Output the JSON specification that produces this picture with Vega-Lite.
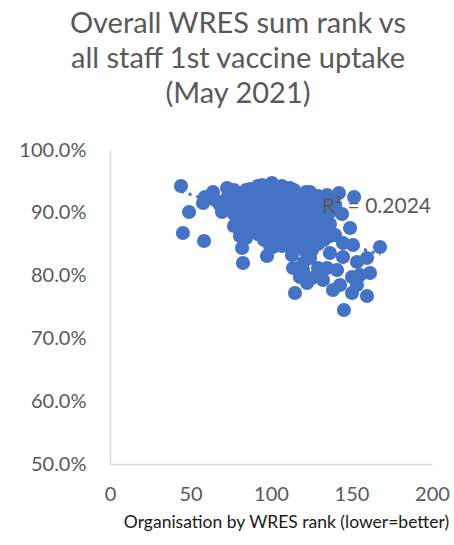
{
  "$schema": "https://vega.github.io/schema/vega-lite/v6.json",
  "width": 322,
  "height": 314,
  "autosize": "none",
  "padding": {"left": 110, "top": 150, "right": 22, "bottom": 81},
  "background": "white",
  "title": {
    "text": ["Overall WRES sum rank vs", "all staff 1st vaccine uptake", "(May 2021)"],
    "font": "Lato",
    "fontSize": 29,
    "fontWeight": "normal",
    "color": "#595959",
    "lineHeight": 35,
    "anchor": "middle",
    "frame": "group",
    "dx": -33,
    "offset": 31
  },
  "config": {
    "view": {"stroke": null},
    "axis": {"grid": false, "ticks": false, "tickSize": 0, "domainColor": "#D9D9D9", "domainWidth": 1.5, "labelFont": "Lato", "labelColor": "#595959", "titleFont": "Lato"}
  },
  "datasets": {
    "pts": [
      {"rank": 44.1, "uptake": 0.9427}, {"rank": 49.1, "uptake": 0.9013}, {"rank": 45.3, "uptake": 0.8678}, {"rank": 58.4, "uptake": 0.8551},
      {"rank": 59.0, "uptake": 0.9252}, {"rank": 64.0, "uptake": 0.9331}, {"rank": 72.7, "uptake": 0.9395}, {"rank": 87.0, "uptake": 0.9379},
      {"rank": 57.8, "uptake": 0.9156}, {"rank": 68.3, "uptake": 0.9124}, {"rank": 77.6, "uptake": 0.9013}, {"rank": 85.1, "uptake": 0.9172},
      {"rank": 79.5, "uptake": 0.8806}, {"rank": 80.7, "uptake": 0.8631}, {"rank": 82.0, "uptake": 0.8439}, {"rank": 82.6, "uptake": 0.8201},
      {"rank": 97.5, "uptake": 0.8312}, {"rank": 100.6, "uptake": 0.9475}, {"rank": 94.4, "uptake": 0.9443}, {"rank": 111.8, "uptake": 0.9395},
      {"rank": 124.2, "uptake": 0.9331}, {"rank": 134.8, "uptake": 0.9283}, {"rank": 142.2, "uptake": 0.9315}, {"rank": 151.6, "uptake": 0.9252},
      {"rank": 144.1, "uptake": 0.8981}, {"rank": 149.1, "uptake": 0.8758}, {"rank": 144.7, "uptake": 0.8519}, {"rank": 133.5, "uptake": 0.8854},
      {"rank": 136.6, "uptake": 0.8360}, {"rank": 144.7, "uptake": 0.8296}, {"rank": 159.6, "uptake": 0.8280}, {"rank": 167.7, "uptake": 0.8455},
      {"rank": 161.5, "uptake": 0.8041}, {"rank": 155.3, "uptake": 0.8010}, {"rank": 150.3, "uptake": 0.7978}, {"rank": 150.9, "uptake": 0.8487},
      {"rank": 150.3, "uptake": 0.7723}, {"rank": 159.6, "uptake": 0.7675}, {"rank": 145.3, "uptake": 0.7452}, {"rank": 138.5, "uptake": 0.7771},
      {"rank": 134.8, "uptake": 0.8121}, {"rank": 129.2, "uptake": 0.8121}, {"rank": 119.9, "uptake": 0.8089}, {"rank": 122.4, "uptake": 0.7882},
      {"rank": 114.9, "uptake": 0.7723}, {"rank": 118.0, "uptake": 0.7978}, {"rank": 113.0, "uptake": 0.8328}, {"rank": 119.9, "uptake": 0.8201},
      {"rank": 101.2, "uptake": 0.8455},
      {"rank": 124.2, "uptake": 0.8280}, {"rank": 113.7, "uptake": 0.8121}, {"rank": 125.5, "uptake": 0.7962}, {"rank": 132.3, "uptake": 0.7930},
      {"rank": 142.9, "uptake": 0.7850}, {"rank": 153.4, "uptake": 0.7850}, {"rank": 153.4, "uptake": 0.8217}, {"rank": 141.0, "uptake": 0.8089},
      {"rank": 65.2, "uptake": 0.9204},
      {"rank": 73.3, "uptake": 0.9268}, {"rank": 73.3, "uptake": 0.9076},
      {"rank": 80.7, "uptake": 0.9283}, {"rank": 80.7, "uptake": 0.9092}, {"rank": 80.7, "uptake": 0.8917},
      {"rank": 88.2, "uptake": 0.9283}, {"rank": 88.2, "uptake": 0.9092}, {"rank": 88.2, "uptake": 0.8901}, {"rank": 88.2, "uptake": 0.8726},
      {"rank": 95.7, "uptake": 0.9331}, {"rank": 95.7, "uptake": 0.9140}, {"rank": 95.7, "uptake": 0.8949}, {"rank": 95.7, "uptake": 0.8758}, {"rank": 95.7, "uptake": 0.8567},
      {"rank": 103.1, "uptake": 0.9331}, {"rank": 103.1, "uptake": 0.9140}, {"rank": 103.1, "uptake": 0.8949}, {"rank": 103.1, "uptake": 0.8758}, {"rank": 103.1, "uptake": 0.8567},
      {"rank": 110.6, "uptake": 0.9268}, {"rank": 110.6, "uptake": 0.9076}, {"rank": 110.6, "uptake": 0.8885}, {"rank": 110.6, "uptake": 0.8694}, {"rank": 110.6, "uptake": 0.8503},
      {"rank": 118.0, "uptake": 0.9236}, {"rank": 118.0, "uptake": 0.9045}, {"rank": 118.0, "uptake": 0.8854}, {"rank": 118.0, "uptake": 0.8662}, {"rank": 118.0, "uptake": 0.8471},
      {"rank": 125.5, "uptake": 0.9204}, {"rank": 125.5, "uptake": 0.9013}, {"rank": 125.5, "uptake": 0.8822}, {"rank": 125.5, "uptake": 0.8631}, {"rank": 125.5, "uptake": 0.8408},
      {"rank": 132.9, "uptake": 0.9124}, {"rank": 132.9, "uptake": 0.8965}, {"rank": 132.9, "uptake": 0.8726}, {"rank": 132.9, "uptake": 0.8567},
      {"rank": 139.8, "uptake": 0.9124}, {"rank": 139.8, "uptake": 0.8646},
      {"rank": 69.6, "uptake": 0.9172}, {"rank": 69.6, "uptake": 0.9013},
      {"rank": 77.0, "uptake": 0.9363}, {"rank": 77.0, "uptake": 0.9172}, {"rank": 77.0, "uptake": 0.8981}, {"rank": 77.0, "uptake": 0.8790},
      {"rank": 84.5, "uptake": 0.9363}, {"rank": 84.5, "uptake": 0.9172}, {"rank": 84.5, "uptake": 0.8981}, {"rank": 84.5, "uptake": 0.8790}, {"rank": 84.5, "uptake": 0.8599},
      {"rank": 91.9, "uptake": 0.9427}, {"rank": 91.9, "uptake": 0.9236}, {"rank": 91.9, "uptake": 0.9045}, {"rank": 91.9, "uptake": 0.8854}, {"rank": 91.9, "uptake": 0.8662},
      {"rank": 99.4, "uptake": 0.9427}, {"rank": 99.4, "uptake": 0.9236}, {"rank": 99.4, "uptake": 0.9045}, {"rank": 99.4, "uptake": 0.8854}, {"rank": 99.4, "uptake": 0.8662}, {"rank": 99.4, "uptake": 0.8471},
      {"rank": 106.8, "uptake": 0.9427}, {"rank": 106.8, "uptake": 0.9236}, {"rank": 106.8, "uptake": 0.9045}, {"rank": 106.8, "uptake": 0.8854}, {"rank": 106.8, "uptake": 0.8662}, {"rank": 106.8, "uptake": 0.8471},
      {"rank": 114.3, "uptake": 0.9363}, {"rank": 114.3, "uptake": 0.9172}, {"rank": 114.3, "uptake": 0.8981}, {"rank": 114.3, "uptake": 0.8790}, {"rank": 114.3, "uptake": 0.8599}, {"rank": 114.3, "uptake": 0.8408},
      {"rank": 121.7, "uptake": 0.9331}, {"rank": 121.7, "uptake": 0.9140}, {"rank": 121.7, "uptake": 0.8949}, {"rank": 121.7, "uptake": 0.8758}, {"rank": 121.7, "uptake": 0.8567}, {"rank": 121.7, "uptake": 0.8376},
      {"rank": 129.2, "uptake": 0.9268}, {"rank": 129.2, "uptake": 0.9076}, {"rank": 129.2, "uptake": 0.8885}, {"rank": 129.2, "uptake": 0.8694}, {"rank": 129.2, "uptake": 0.8503},
      {"rank": 136.6, "uptake": 0.9204}, {"rank": 136.6, "uptake": 0.9013}, {"rank": 136.6, "uptake": 0.8822}, {"rank": 136.6, "uptake": 0.8631}
    ],
    "trend": [
      {"rank": 44.1, "uptake": 0.9341},
      {"rank": 167.7, "uptake": 0.8335}
    ],
    "label": [
      {"rank": 131.7, "uptake": 0.9092, "text": "R² = 0.2024"}
    ]
  },
  "layer": [
    {
      "data": {"name": "trend"},
      "mark": {"type": "line", "color": "#4472C4", "strokeWidth": 3, "strokeDash": [3, 5]},
      "encoding": {
        "x": {"field": "rank", "type": "quantitative", "scale": {"domain": [0, 200]},
          "axis": {"values": [0, 50, 100, 150, 200], "labelFontSize": 20, "labelFlush": false, "labelPadding": 36, "labelBaseline": "alphabetic",
            "title": "Organisation by WRES rank (lower=better)", "titleFontSize": 17.5, "titleFontWeight": "normal", "titleColor": "#1a1a1a",
            "titleX": 176, "titleY": 63, "titleBaseline": "alphabetic", "titleAnchor": null}},
        "y": {"field": "uptake", "type": "quantitative", "scale": {"domain": [0.5, 1.0]},
          "axis": {"values": [0.5, 0.6, 0.7, 0.8, 0.9, 1.0], "format": ".1%", "labelFontSize": 20, "labelPadding": 24, "title": null}}
      }
    },
    {
      "data": {"name": "pts"},
      "mark": {"type": "circle", "color": "#4472C4", "opacity": 1, "size": 200},
      "encoding": {
        "x": {"field": "rank", "type": "quantitative"},
        "y": {"field": "uptake", "type": "quantitative"}
      }
    },
    {
      "data": {"name": "label"},
      "mark": {"type": "text", "align": "left", "baseline": "middle", "font": "Lato", "fontSize": 21, "color": "#595959"},
      "encoding": {
        "x": {"field": "rank", "type": "quantitative"},
        "y": {"field": "uptake", "type": "quantitative"},
        "text": {"field": "text"}
      }
    }
  ]
}
